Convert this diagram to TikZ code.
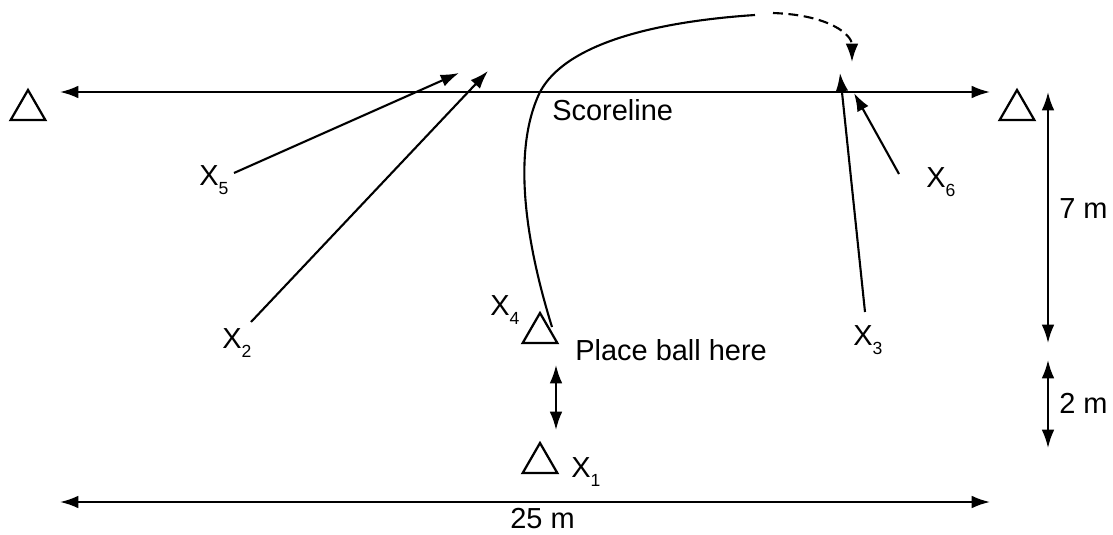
\documentclass[tikz,border=0pt]{standalone}
\usepackage{fontspec}
\setmainfont{Liberation Sans}
\usetikzlibrary{arrows}
\usetikzlibrary{arrows.meta}
\usetikzlibrary{shapes.geometric}
\usetikzlibrary{positioning}

\newcommand{\plyr}[1]{X\raisebox{-7pt}{\fontsize{12.5}{14}\selectfont #1}}

\begin{document}
\begin{tikzpicture}[x=0.025cm,y=-0.025cm]
  \tikzset{>={Latex[length=13pt,width=9pt]}}
  \tikzstyle{cone}=[draw,regular polygon,regular polygon sides=3,minimum size=1.0cm,inner sep=0pt,line width=1.6pt]
  \tikzstyle{run}=[->,line width=1.5pt]
  \tikzstyle{dim}=[<->,line width=1.5pt]
  \tikzstyle{lbl}=[anchor=base west,inner sep=0pt,font=\fontsize{20.6}{24}\selectfont]

  \useasboundingbox (0,0) rectangle (1113,534);

  % CONES
  \node[cone] (coneL) at (28,110) {};
  \node[cone] (coneR) at (1017,110) {};
  \node[cone] (ball) at (540,333) {};
  \node[cone] (coneX1) at (540,463) {};

  % LABELS
  \node[lbl] (sline) at (552,120) {Scoreline};
  \node[lbl] (place) at (575,360) {Place ball here};
  \node[lbl] (p1) at (571,477) {\plyr{1}};
  \node[lbl] (p2) at (222,348) {\plyr{2}};
  \node[lbl] (p3) at (853,345) {\plyr{3}};
  \node[lbl] (p4) at (490,315) {\plyr{4}};
  \node[lbl] (p5) at (199,185) {\plyr{5}};
  \node[lbl] (p6) at (926,187) {\plyr{6}};
  \node[lbl] (d7) at (1059,218) {7 m};
  \node[lbl] (d2) at (1059,413) {2 m};
  \node[lbl] (d25) at (510,528) {25 m};

  % ENDPOINTS
  \coordinate (slL) at (60,92);
  \coordinate (slR) at (990,92);
  \coordinate (bL) at (60,502);
  \coordinate (bR) at (990,502);
  \coordinate (s7a) at (1048,92);
  \coordinate (s7b) at (1048,343);
  \coordinate (s2a) at (1048,360);
  \coordinate (s2b) at (1048,448);
  \coordinate (gapA) at (556,365);
  \coordinate (gapB) at (556,430);
  \coordinate (r5a) at (234,173);
  \coordinate (r5b) at (459,73);
  \coordinate (r2a) at (251,322);
  \coordinate (r2b) at (488,71);
  \coordinate (r3a) at (865,312);
  \coordinate (r3b) at (840,73);
  \coordinate (r6a) at (899,174);
  \coordinate (r6b) at (854,93);
  \coordinate (kick) at (552,327);
  \coordinate (peak) at (755,15);
  \coordinate (fallA) at (773,13);
  \coordinate (fallB) at (852,62);

  % LINES
  \draw[dim] (slL) -- (slR);
  \draw[dim] (bL) -- (bR);
  \draw[dim] (s7a) -- (s7b);
  \draw[dim] (s2a) -- (s2b);
  \draw[dim] (gapA) -- (gapB);

  \draw[run] (r5a) -- (r5b);
  \draw[run] (r2a) -- (r2b);
  \draw[run] (r3a) -- (r3b);
  \draw[run] (r6a) -- (r6b);

  \draw[line width=1.5pt] (kick) .. controls (525,240) and (512,150) .. (540,92)
    .. controls (565,45) and (650,22) .. (peak);
  \draw[run,dash pattern=on 7pt off 4pt] (fallA) .. controls (830,15) and (852,35) .. (fallB);
\end{tikzpicture}
\end{document}
